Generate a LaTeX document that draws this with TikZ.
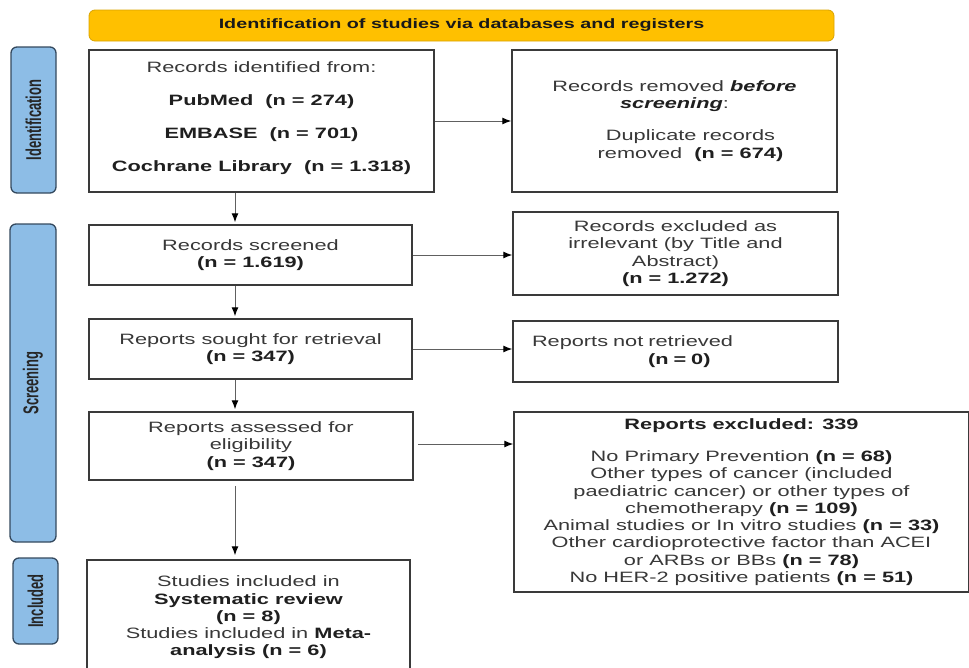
\documentclass[tikz,border=0pt]{standalone}
\usepackage{fontspec}
\setmainfont{Liberation Sans}[FakeStretch=1.45]
\newfontfamily\sidefont{Liberation Sans}
\usetikzlibrary{arrows.meta}
\definecolor{txt}{HTML}{383838}
\definecolor{boxline}{HTML}{3A3A3A}
\definecolor{arrline}{HTML}{606060}
\definecolor{sidefill}{HTML}{8DBDE6}
\definecolor{sideline}{HTML}{34495E}
\definecolor{banfill}{HTML}{FFC000}
\definecolor{banline}{HTML}{D9A300}
\newcommand{\sidetext}[1]{\rotatebox{90}{\scalebox{1}[1.65]{\sidefont\bfseries\fontsize{13}{13}\selectfont #1}}}
\begin{document}
\begin{tikzpicture}[x=1pt,y=-1pt,
  box/.style={draw=boxline, line width=1.5pt, fill=white, inner sep=0pt, align=center,
    text=txt, font=\fontsize{15}{17.3}\selectfont},
  side/.style={draw=sideline, fill=sidefill, rounded corners=6pt, line width=1.3pt, inner sep=0pt, text=black!85},
  arr/.style={draw=arrline, line width=1pt, -{Latex[length=9pt,width=7pt,color=black]}}]
\useasboundingbox (0,0) rectangle (969,667);
\begin{scope}
\clip (0,0) rectangle (969,667);
% banner
\node[draw=banline, fill=banfill, rounded corners=6pt, line width=0.8pt,
  minimum width=745pt, minimum height=31pt, inner sep=0pt,
  font=\bfseries\fontsize{13.6}{15}\selectfont, text=black!90] (banner) at (461.5,25.5)
  {Identification of studies via databases and registers};
% side labels
\node[side, minimum width=45pt, minimum height=146pt] (sideid) at (33.5,120) {\sidetext{Identification}};
\node[side, minimum width=46pt, minimum height=318pt] (sidescr) at (33,383) {\sidetext{Screening}};
\node[side, minimum width=45pt, minimum height=86pt] (sideinc) at (35.5,601) {\sidetext{Included}};
% left column
\node[box, minimum width=345pt, minimum height=142pt] (ident) at (261.5,121)
  {Records identified from:\\[15.7pt]
   \textbf{\color{black!88}PubMed\ \ (n = 274)}\\[15.7pt]
   \textbf{\color{black!88}EMBASE\ \ (n = 701)}\\[15.7pt]
   \textbf{\color{black!88}Cochrane Library\ \ (n = 1.318)}\\[-8pt]\mbox{}};
\node[box, minimum width=323pt, minimum height=60pt] (screened) at (250.5,255)
  {Records screened\\\textbf{\color{black!88}(n = 1.619)}};
\node[box, minimum width=323pt, minimum height=60pt] (sought) at (250.5,349)
  {Reports sought for retrieval\\\textbf{\color{black!88}(n = 347)}};
\node[box, minimum width=324pt, minimum height=68pt] (assessed) at (251,446)
  {Reports assessed for\\eligibility\\\textbf{\color{black!88}(n = 347)}};
\node[box, minimum width=323pt, minimum height=115pt] (included) at (248.5,617.5)
  {Studies included in\\\textbf{\color{black!88}Systematic review}\\\textbf{\color{black!88}(n = 8)}\\
   Studies included in \textbf{\color{black!88}Meta-}\\\textbf{\color{black!88}analysis (n = 6)}};
% right column
\node[box, minimum width=325pt, minimum height=142pt] (removed) at (674.5,121)
  {Records removed \textbf{\textit{\color{black!88}before}}\\\textbf{\textit{\color{black!88}screening}}:\\[14.5pt]
   \hspace*{32pt}Duplicate records\\\hspace*{32pt}removed\ \ \textbf{\color{black!88}(n = 674)}};
\node[box, minimum width=325pt, minimum height=83pt] (irrel) at (675.5,253.5)
  {Records excluded as\\irrelevant (by Title and\\Abstract)\\\textbf{\color{black!88}(n = 1.272)}};
\node[box, minimum width=325pt, minimum height=61pt, text width=325pt, align=left] (notret) at (675.5,351.5)
  {\hspace*{19pt}Reports not retrieved\\\hspace*{135pt}\textbf{\color{black!88}(n = 0)}};
\node[box, minimum width=455pt, minimum height=180pt] (excl) at (741.5,502)
  {\textbf{\color{black!88}Reports excluded: 339}\\[15pt]
   No Primary Prevention \textbf{\color{black!88}(n = 68)}\\
   Other types of cancer (included\\
   paediatric cancer) or other types of\\
   chemotherapy \textbf{\color{black!88}(n = 109)}\\
   Animal studies or In vitro studies \textbf{\color{black!88}(n = 33)}\\
   Other cardioprotective factor than ACEI\\
   or ARBs or BBs \textbf{\color{black!88}(n = 78)}\\
   No HER-2 positive patients \textbf{\color{black!88}(n = 51)}};
% connectors
\coordinate (ax) at (235,0);
\draw[arr, shorten >=2pt] (ident.south -| ax) -- (screened.north -| ax);
\draw[arr, shorten >=2pt] (screened.south -| ax) -- (sought.north -| ax);
\draw[arr, shorten >=2pt] (sought.south -| ax) -- (assessed.north -| ax);
\draw[arr, shorten <=5pt, shorten >=4pt] (assessed.south -| ax) -- (included.north -| ax);
\draw[arr] (ident.east) -- (ident.east -| removed.west);
\draw[arr] (screened.east) -- (screened.east -| irrel.west);
\draw[arr] (sought.east) -- (sought.east -| notret.west);
\draw[arr, shorten <=4pt] ([yshift=2pt]assessed.east) -- ([yshift=2pt]assessed.east -| excl.west);
\end{scope}
\end{tikzpicture}
\end{document}
